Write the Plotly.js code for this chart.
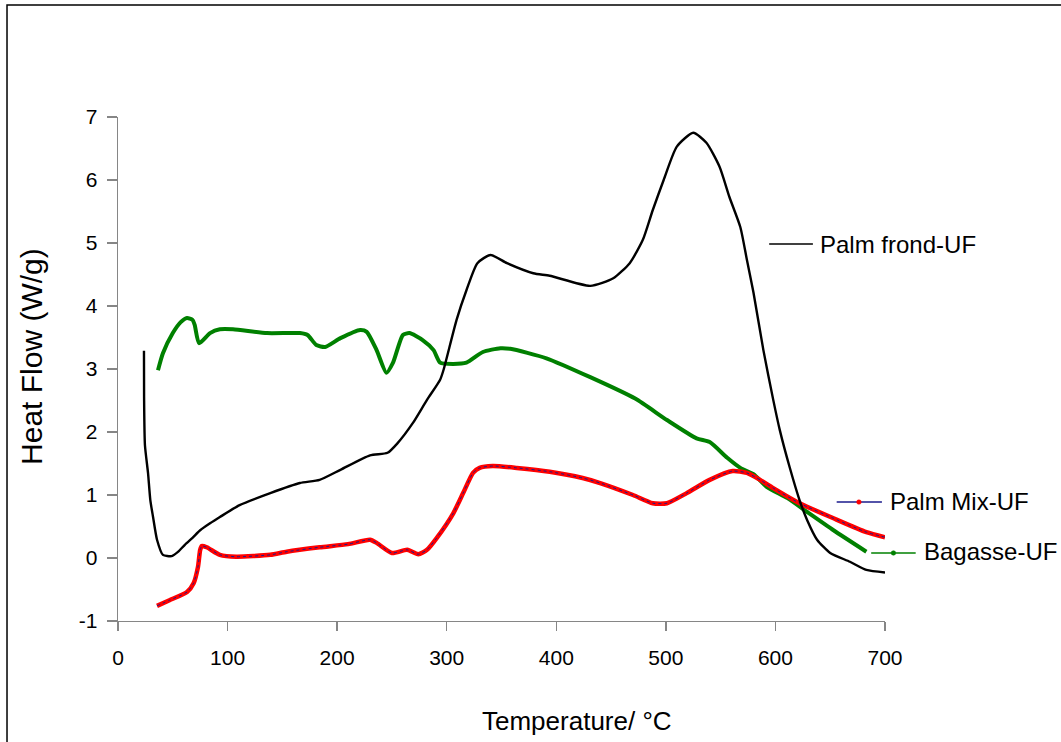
<!DOCTYPE html>
<html>
<head>
<meta charset="utf-8">
<script src="https://cdn.plot.ly/plotly-3.0.1.min.js"></script>
<style>
  html, body { margin: 0; padding: 0; background: #ffffff; }
  #chart { width: 1061px; height: 742px; }
</style>
</head>
<body>
<div id="chart"></div>
<script>
// DSC heat flow curves of the three UF-bonded samples
const palmFrondT = [23.7, 23.8, 24.6, 27.4, 29.5, 32, 35.6, 41, 49, 55, 61, 68, 75, 84, 93, 111, 139, 166, 184, 203, 230, 246, 255, 269, 282, 294, 297, 309, 318, 328, 340, 355, 379, 394, 431, 452, 467, 479, 488, 498, 510, 525, 537, 549, 558, 568, 574, 580, 589, 598, 604, 613, 622, 629, 638, 650, 668, 683, 700];
const palmFrondHF = [3.29, 2.56, 1.79, 1.35, 0.92, 0.65, 0.29, 0.05, 0.03, 0.10, 0.21, 0.32, 0.44, 0.55, 0.65, 0.84, 1.03, 1.19, 1.24, 1.40, 1.63, 1.67, 1.82, 2.14, 2.51, 2.83, 2.98, 3.78, 4.25, 4.68, 4.81, 4.68, 4.52, 4.48, 4.32, 4.44, 4.68, 5.05, 5.52, 6.00, 6.53, 6.75, 6.59, 6.21, 5.73, 5.25, 4.73, 4.21, 3.30, 2.51, 2.03, 1.44, 0.92, 0.60, 0.29, 0.08, -0.06, -0.19, -0.23];

const palmMixT = [35.6, 47, 63, 69, 73, 75, 76.5, 81, 93, 108, 139, 154, 184, 210, 230, 236, 250, 264, 274, 282, 291, 306, 315, 324, 330, 342, 364, 394, 424, 440, 470, 488, 501, 519, 540, 561, 574, 586, 598, 622, 653, 683, 700];
const palmMixHF = [-0.76, -0.67, -0.54, -0.40, -0.14, 0.13, 0.19, 0.17, 0.05, 0.02, 0.05, 0.10, 0.17, 0.22, 0.29, 0.24, 0.08, 0.13, 0.06, 0.13, 0.32, 0.71, 1.03, 1.35, 1.43, 1.46, 1.43, 1.37, 1.27, 1.19, 1.00, 0.87, 0.87, 1.03, 1.24, 1.38, 1.35, 1.24, 1.11, 0.87, 0.63, 0.41, 0.33];

const bagasseT = [36.5, 41, 50, 57, 63, 68, 70, 74, 84, 93, 105, 136, 166, 173, 181, 189, 203, 221, 227, 236, 245, 251, 260, 266, 278, 288, 294, 306, 318, 333, 349, 358, 391, 431, 472, 501, 528, 540, 556, 568, 580, 592, 611, 629, 653, 683];
const bagasseHF = [2.98, 3.25, 3.57, 3.74, 3.81, 3.78, 3.70, 3.41, 3.57, 3.63, 3.63, 3.57, 3.57, 3.54, 3.38, 3.35, 3.49, 3.62, 3.59, 3.30, 2.94, 3.10, 3.54, 3.57, 3.46, 3.30, 3.10, 3.08, 3.10, 3.27, 3.33, 3.32, 3.17, 2.87, 2.53, 2.19, 1.90, 1.84, 1.59, 1.43, 1.33, 1.13, 0.95, 0.73, 0.44, 0.10];

const xTicks = [0, 100, 200, 300, 400, 500, 600, 700];
const yTicks = [-1, 0, 1, 2, 3, 4, 5, 6, 7];

const FONT = 'Liberation Sans, Arial, sans-serif';
const AXIS_GREY = '#868686';

const traces = [
  { name: 'Bagasse-UF', x: bagasseT, y: bagasseHF, mode: 'lines',
    line: { color: '#008000', width: 4, shape: 'spline', smoothing: 0.6 }, showlegend: false },
  { name: 'Palm Mix-UF', x: palmMixT, y: palmMixHF, mode: 'lines',
    line: { color: '#ff0000', width: 4.5, shape: 'spline', smoothing: 0.6 }, showlegend: false },
  { name: 'Palm Mix-UF', x: palmMixT, y: palmMixHF, mode: 'lines',
    line: { color: '#1a1a8c', width: 1, dash: 'dot', shape: 'spline', smoothing: 0.6 }, showlegend: false, hoverinfo: 'skip' },
  { name: 'Palm frond-UF', x: palmFrondT, y: palmFrondHF, mode: 'lines',
    line: { color: '#000000', width: 2.4, shape: 'spline', smoothing: 0.6 }, showlegend: false }
];

// paper-coordinate helpers for the series key drawn beside the curves
const keyText = (txt, x, y) => ({
  text: txt, xref: 'paper', yref: 'paper', x: x, y: y,
  xanchor: 'left', yanchor: 'middle', showarrow: false,
  font: { family: FONT, size: 24, color: '#000000' }
});
const keyLine = (x0, x1, y, color) => ({
  type: 'line', xref: 'paper', yref: 'paper', x0: x0, x1: x1, y0: y, y1: y,
  line: { color: color, width: 1.5 }
});
const keyDot = (x, y, color) => ({
  type: 'circle', xref: 'paper', yref: 'paper',
  x0: x - 0.0030, x1: x + 0.0030, y0: y - 0.0045, y1: y + 0.0045,
  fillcolor: color, line: { color: color, width: 0.5 }
});

const layout = {
  width: 1061, height: 742,
  margin: { l: 118, r: 176, t: 117, b: 121 },
  paper_bgcolor: '#ffffff', plot_bgcolor: '#ffffff',
  font: { family: FONT, color: '#000000' },
  xaxis: {
    range: [0, 700], tickvals: xTicks, ticktext: xTicks.map(String),
    showgrid: false, zeroline: false, showline: true,
    linecolor: AXIS_GREY, linewidth: 1.3, ticks: 'outside', ticklen: 9, tickwidth: 1.3,
    tickcolor: AXIS_GREY, ticklabelstandoff: 8,
    tickfont: { family: FONT, size: 21, color: '#000000' }
  },
  yaxis: {
    range: [-1, 7], tickvals: yTicks, ticktext: yTicks.map(String),
    showgrid: false, zeroline: false, showline: true,
    linecolor: AXIS_GREY, linewidth: 1.3, ticks: 'outside', ticklen: 10, tickwidth: 1.3,
    tickcolor: AXIS_GREY, ticklabelstandoff: 5,
    tickfont: { family: FONT, size: 21, color: '#000000' }
  },
  annotations: [
    { text: 'Temperature/ °C', xref: 'paper', yref: 'paper', x: 0.598, y: -0.198,
      xanchor: 'center', yanchor: 'middle', showarrow: false,
      font: { family: FONT, size: 26, color: '#000000' } },
    { text: 'Heat Flow (W/g)', xref: 'paper', yref: 'paper', x: -0.1121, y: 0.524,
      xanchor: 'center', yanchor: 'middle', textangle: -90, showarrow: false,
      font: { family: FONT, size: 30, color: '#000000' } },
    keyText('Palm frond-UF', 0.912, 0.748),
    keyText('Palm Mix-UF', 1.004, 0.238),
    keyText('Bagasse-UF', 1.048, 0.137)
  ],
  shapes: [
    // outer frame
    { type: 'rect', xref: 'paper', yref: 'paper', x0: -0.1447, x1: 1.40, y0: -0.40, y1: 1.222,
      line: { color: '#000000', width: 1.5 }, fillcolor: 'rgba(0,0,0,0)', layer: 'below' },
    keyLine(0.849, 0.906, 0.748, '#000000'),
    keyLine(0.937, 0.996, 0.236, '#1a1a8c'),
    keyDot(0.966, 0.236, '#ff0000'),
    keyLine(0.982, 1.040, 0.135, '#008000'),
    keyDot(1.011, 0.135, '#008000')
  ]
};

Plotly.newPlot('chart', traces, layout, { staticPlot: true, displayModeBar: false });
</script>
</body>
</html>
